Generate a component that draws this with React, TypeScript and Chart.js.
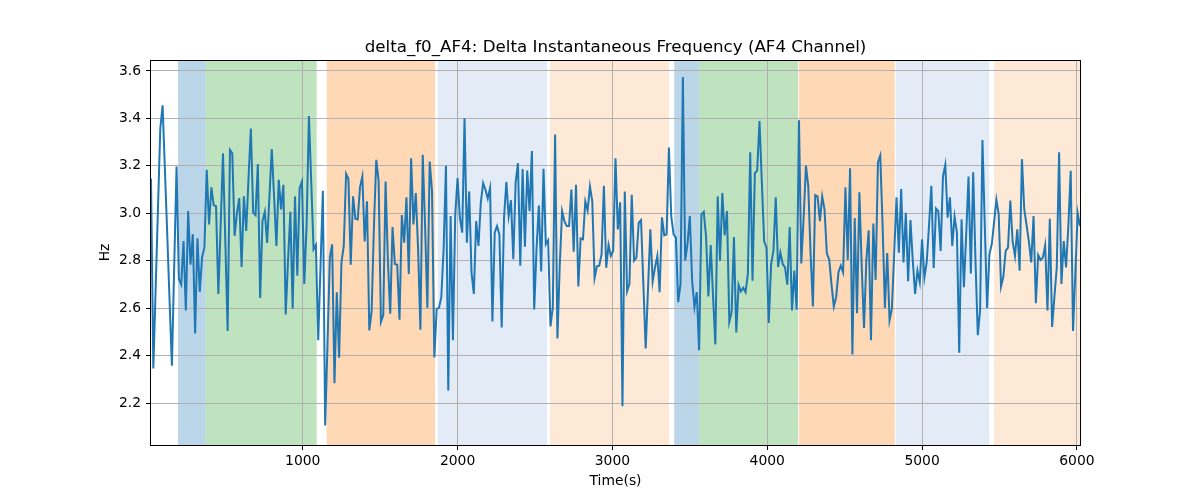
import React, { useEffect, useRef } from "react";
import { Chart, registerables } from "chart.js";

Chart.register(...registerables);

// Sample times: first sample and sampling interval (s)
const T0 = 20;
const DT = 15;

// delta_f0_AF4 values (Hz)
const valuesA = [
  3.145, 2.346, 2.68, 3.02, 3.357, 3.455, 3.18, 2.91, 2.63, 2.357,
  2.78, 3.197, 2.723, 2.70, 2.883, 2.59, 3.009, 2.783, 2.911, 2.493,
  2.894, 2.668, 2.816, 2.855, 3.183, 2.953, 3.109, 3.034, 3.03, 2.66,
  2.95, 3.253, 2.88, 2.504, 3.267, 3.253, 2.904, 3.00, 3.064, 2.774,
  3.071, 2.925, 3.15, 3.357, 3.002, 2.992, 3.207, 2.643, 2.967, 3.006,
  2.875, 3.07, 3.271, 3.07, 2.862, 3.141, 3.016, 3.12, 2.573, 2.80,
  3.006, 2.597, 3.071, 2.737, 3.106, 3.134,
];
const valuesB = [
  2.702, 2.95, 3.41, 3.13, 2.848, 2.866, 2.465, 2.78, 3.095, 2.105,
  2.45, 2.813, 2.869, 2.283, 2.667, 2.391, 2.792, 2.862, 3.166, 3.145,
  2.783, 3.071, 2.977, 2.974, 3.11, 3.155, 2.881, 3.05, 2.506, 2.587,
  2.95, 3.225, 3.137, 2.542, 2.57, 3.134, 2.80, 2.576, 2.942, 2.786,
  2.783, 2.551, 2.992, 2.876, 3.067, 2.744, 3.232, 2.953, 3.085, 2.85,
  2.509, 3.246, 2.95, 2.601, 3.218, 3.092, 2.392, 2.597, 2.601, 2.646,
  2.85, 3.2, 2.253, 2.988, 2.465, 2.995, 3.148,
];
const valuesC = [
  2.98, 2.918, 3.4, 2.876, 3.092, 2.751, 2.66, 2.967, 2.862, 3.044,
  3.127, 3.099, 3.062, 3.106, 2.544, 2.918, 2.946, 2.911, 2.518, 2.98,
  3.131, 2.988, 3.055, 2.806, 3.13, 3.211, 2.779, 3.186, 2.859, 3.18,
  3.009, 3.262, 2.594, 2.85, 3.032, 2.755, 3.187, 2.869, 2.886, 2.523,
  2.604, 3.332, 2.472, 2.78, 3.009, 2.967, 2.946, 2.946, 3.1, 2.838,
  3.12, 2.691, 2.894, 2.89, 3.05, 3.012, 3.113, 3.05, 2.727, 2.776,
  2.779, 2.827, 3.116, 2.77, 2.866, 2.82, 2.841,
];
const valuesD = [
  3.232, 2.932, 3.046, 2.186, 3.092, 2.671, 2.702, 3.078, 2.8, 2.813,
  2.96, 2.971, 2.70, 2.43, 2.68, 2.932, 2.712, 2.772, 2.82, 2.667,
  2.983, 2.907, 2.911, 3.277, 2.988, 2.911, 2.897, 2.625, 2.702, 3.574,
  2.8, 2.87, 2.988, 2.716, 2.604, 2.667, 2.423, 2.995, 3.006, 2.90,
  2.649, 2.866, 2.65, 2.447, 3.071, 2.80, 3.085, 2.907, 3.009, 2.542,
  2.583, 2.9, 2.497, 2.698, 2.67, 2.686, 2.667, 2.744, 3.257, 2.716,
  3.169, 3.179, 3.389, 3.134, 2.883, 2.855,
];
const valuesE = [
  2.537, 2.786, 2.841, 3.067, 2.774, 2.834, 2.786, 2.772, 2.699, 2.942,
  2.59, 2.758, 2.593, 3.392, 2.788, 2.98, 3.201, 3.113, 2.83, 2.607,
  3.076, 3.071, 2.967, 3.071, 3.016, 2.83, 2.806, 2.70, 2.607, 2.646,
  2.751, 2.779, 2.751, 3.109, 2.803, 3.19, 2.405, 2.98, 2.579, 3.088,
  2.78, 2.516, 2.80, 2.928, 2.465, 2.957, 2.719, 3.214, 3.243, 2.95,
  2.601, 2.832, 2.549, 2.597, 2.83, 3.067, 2.834, 3.102, 2.793, 3.002,
  2.713, 2.971, 2.80, 2.66, 2.758, 2.709, 2.89, 2.729,
];
const valuesF = [
  2.793, 2.95, 3.116, 2.769, 3.02, 3.009, 2.841, 3.155, 3.204, 2.981,
  3.067, 2.862, 2.985, 2.92, 2.412, 2.974, 2.688, 2.91, 3.155, 2.746,
  3.173, 2.80, 2.486, 2.593, 3.309, 2.95, 2.601, 2.827, 2.869, 2.96,
  3.057, 2.995, 2.691, 2.733, 2.841, 2.855, 3.053, 2.88, 2.82, 2.932,
  2.758, 3.228, 3.016, 2.95, 2.88, 2.793, 2.988, 2.621, 2.824, 2.803,
  2.813, 2.865, 2.59, 2.977, 2.521, 2.65, 2.772, 3.257, 2.702, 2.883,
  2.772, 2.95, 3.179, 2.504, 2.75, 3.0, 2.946,
];

// Axis range and ticks
const X_MIN = 20;
const X_MAX = 6020;
const Y_MIN = 2.023;
const Y_MAX = 3.646;
const xTicks = [1000, 2000, 3000, 4000, 5000, 6000];
const yTicks = [2.2, 2.4, 2.6, 2.8, 3.0, 3.2, 3.4, 3.6];

// Shaded segments (time ranges)
const spanStarts = [194, 373, 1155, 1872, 2597, 3399, 3561, 4204, 4831, 5464];
const spanEnds = [373, 1090, 1855, 2578, 3366, 3561, 4199, 4824, 5434, 6040];
const spanColors = [
  "rgba(31,119,180,0.3)",
  "rgba(44,160,44,0.3)",
  "rgba(255,127,14,0.3)",
  "rgb(227,235,246)",
  "rgb(254,233,214)",
  "rgba(31,119,180,0.3)",
  "rgba(44,160,44,0.3)",
  "rgba(255,127,14,0.3)",
  "rgb(227,235,246)",
  "rgb(254,233,214)",
];

const TITLE = "delta_f0_AF4: Delta Instantaneous Frequency (AF4 Channel)";
const FONT = "'DejaVu Sans', 'Liberation Sans', sans-serif";

export default function App() {
  const ref = useRef<HTMLCanvasElement>(null);

  useEffect(() => {
    const canvas = ref.current;
    if (!canvas) return;
    const values = [...valuesA, ...valuesB, ...valuesC, ...valuesD, ...valuesE, ...valuesF];
    const points = values.map((v, i) => ({ x: T0 + i * DT, y: v }));

    const spansPlugin = {
      id: "spans",
      beforeDraw(chart: any) {
        const { ctx, chartArea: a, scales } = chart;
        const xs = scales.x;
        ctx.save();
        ctx.beginPath();
        ctx.rect(a.left, a.top, a.right - a.left, a.bottom - a.top);
        ctx.clip();
        spanStarts.forEach((s, i) => {
          const x1 = xs.getPixelForValue(s);
          const x2 = xs.getPixelForValue(spanEnds[i]);
          ctx.fillStyle = spanColors[i];
          ctx.fillRect(x1, a.top, x2 - x1, a.bottom - a.top);
        });
        ctx.restore();
      },
    };

    const framePlugin = {
      id: "frame",
      afterDraw(chart: any) {
        const { ctx, chartArea: a } = chart;
        ctx.save();
        ctx.strokeStyle = "#000";
        ctx.lineWidth = 1;
        const l = Math.round(a.left) - 0.5;
        const t = Math.round(a.top) + 0.5;
        const r = Math.round(a.right) + 0.5;
        const b = Math.round(a.bottom) + 0.5;
        ctx.strokeRect(l, t, r - l, b - t);
        ctx.fillStyle = "#000";
        ctx.font = `16.7px ${FONT}`;
        ctx.textAlign = "center";
        ctx.textBaseline = "alphabetic";
        ctx.fillText(TITLE, (a.left + a.right) / 2, 52);
        ctx.restore();
      },
    };

    const chart = new Chart(canvas, {
      type: "line",
      data: {
        datasets: [
          {
            data: points,
            borderColor: "#1f77b4",
            borderWidth: 2,
            pointRadius: 0,
            fill: false,
            tension: 0,
          },
        ],
      },
      options: {
        animation: false,
        responsive: false,
        devicePixelRatio: 1,
        layout: { padding: { left: 0, right: 120, top: 60, bottom: 0 } },
        plugins: {
          legend: { display: false },
          tooltip: { enabled: false },
          title: { display: false },
        },
        scales: {
          x: {
            type: "linear",
            min: X_MIN,
            max: X_MAX,
            afterBuildTicks: (s: any) => {
              s.ticks = xTicks.map((v) => ({ value: v }));
            },
            afterFit: (s: any) => {
              s.height = 55;
            },
            grid: { color: "#b0b0b0", lineWidth: 1, tickColor: "#000", tickLength: 5 },
            border: { display: false },
            ticks: {
              color: "#000",
              font: { family: FONT, size: 13.9 },
              padding: 3,
              maxRotation: 0,
              autoSkip: false,
              callback: (v: any) => String(v),
            },
            title: {
              display: true,
              text: "Time(s)",
              color: "#000",
              font: { family: FONT, size: 13.9 },
              padding: { top: 0, bottom: 10 },
            },
          },
          y: {
            type: "linear",
            min: Y_MIN,
            max: Y_MAX,
            afterBuildTicks: (s: any) => {
              s.ticks = yTicks.map((v) => ({ value: v }));
            },
            afterFit: (s: any) => {
              s.width = 151;
            },
            grid: { color: "#b0b0b0", lineWidth: 1, tickColor: "#000", tickLength: 5 },
            border: { display: false },
            ticks: {
              color: "#000",
              font: { family: FONT, size: 13.9 },
              padding: 5,
              autoSkip: false,
              callback: (v: any) => Number(v).toFixed(1),
            },
            title: {
              display: true,
              text: "Hz",
              color: "#000",
              font: { family: FONT, size: 13.9 },
              padding: { top: 97, bottom: 0 },
            },
          },
        },
      },
      plugins: [spansPlugin, framePlugin],
    } as any);

    return () => chart.destroy();
  }, []);

  return (
    <div style={{ position: "fixed", left: 0, top: 0, width: 1200, height: 500, background: "#fff" }}>
      <canvas ref={ref} width={1200} height={500} style={{ display: "block", width: 1200, height: 500 }} />
    </div>
  );
}
